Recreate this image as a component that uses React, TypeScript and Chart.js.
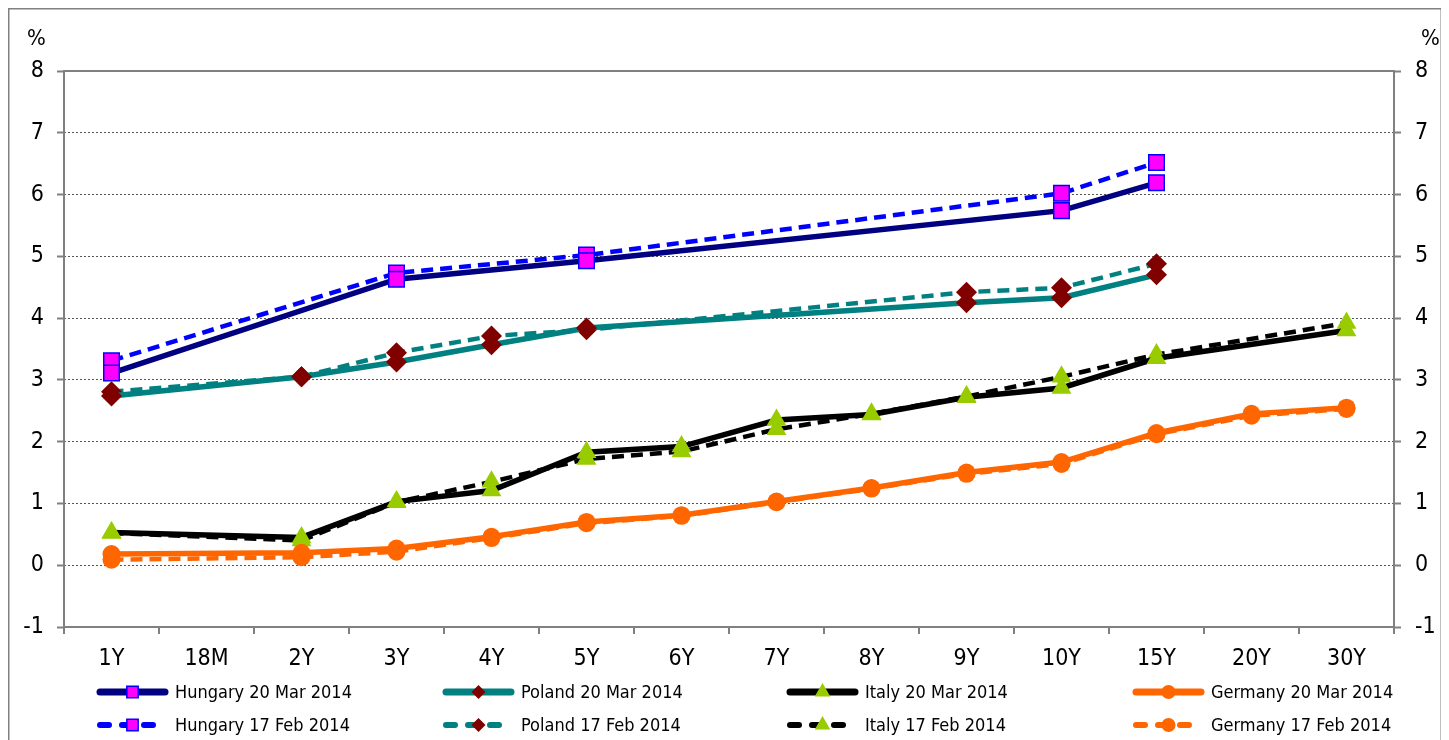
import React, { useEffect, useRef } from 'react';
import { Chart, registerables } from 'chart.js';

Chart.register(...registerables);

const categories = ['1Y', '18M', '2Y', '3Y', '4Y', '5Y', '6Y', '7Y', '8Y', '9Y', '10Y', '15Y', '20Y', '30Y'];

const hungaryMar = [3.11, null, null, 4.63, null, 4.93, null, null, null, null, 5.74, 6.19, null, null];
const polandMar = [2.74, null, 3.05, 3.29, 3.57, 3.84, null, null, null, 4.25, 4.33, 4.7, null, null];
const italyMar = [0.53, null, 0.45, 1.03, 1.21, 1.83, 1.92, 2.35, 2.44, 2.72, 2.87, 3.35, null, 3.8];
const germanyMar = [0.18, null, 0.2, 0.27, 0.46, 0.7, 0.81, 1.03, 1.25, 1.5, 1.67, 2.14, 2.45, 2.55];

const hungaryFeb = [3.31, null, null, 4.73, null, 5.02, null, null, null, null, 6.02, 6.52, null, null];
const polandFeb = [2.81, null, 3.05, 3.44, 3.71, 3.81, null, null, null, 4.42, 4.49, 4.88, null, null];
const italyFeb = [0.52, null, 0.4, 1.02, 1.35, 1.72, 1.84, 2.2, 2.45, 2.73, 3.05, 3.41, null, 3.92];
const germanyFeb = [0.09, null, 0.13, 0.22, 0.44, 0.68, 0.8, 1.02, 1.24, 1.48, 1.64, 2.12, 2.42, 2.53];

const seriesLabels = [
  'Hungary 20 Mar 2014', 'Poland 20 Mar 2014', 'Italy 20 Mar 2014', 'Germany 20 Mar 2014',
  'Hungary 17 Feb 2014', 'Poland 17 Feb 2014', 'Italy 17 Feb 2014', 'Germany 17 Feb 2014',
];

const yMin = -1;
const yMax = 8;

const FONT = '"DejaVu Sans Condensed", "DejaVu Sans", sans-serif';
const DASH = [12, 7];

function markerPath(ctx: CanvasRenderingContext2D, style: string, x: number, y: number, r: number) {
  ctx.beginPath();
  if (style === 'rect') {
    const s = r * Math.SQRT1_2;
    ctx.rect(x - s, y - s, 2 * s, 2 * s);
  } else if (style === 'rectRot') {
    ctx.moveTo(x - r, y);
    ctx.lineTo(x, y - r);
    ctx.lineTo(x + r, y);
    ctx.lineTo(x, y + r);
    ctx.closePath();
  } else if (style === 'triangle') {
    ctx.moveTo(x, y - r);
    ctx.lineTo(x + r * Math.sin(2 * Math.PI / 3), y + r / 2);
    ctx.lineTo(x - r * Math.sin(2 * Math.PI / 3), y + r / 2);
    ctx.closePath();
  } else {
    ctx.arc(x, y, r, 0, Math.PI * 2);
  }
}

const framePlugin = {
  id: 'frame',
  beforeDraw(chart: any) {
    const { ctx, width } = chart;
    ctx.save();
    ctx.fillStyle = '#ffffff';
    ctx.fillRect(0, 0, chart.width, chart.height);
    ctx.strokeStyle = '#808080';
    ctx.lineWidth = 1.5;
    ctx.beginPath();
    ctx.moveTo(0.75, chart.height + 5);
    ctx.lineTo(0.75, 0.75);
    ctx.lineTo(width - 0.75, 0.75);
    ctx.lineTo(width - 0.75, chart.height + 5);
    ctx.stroke();
    ctx.restore();
  },
  beforeDatasetsDraw(chart: any) {
    const { ctx, chartArea: a } = chart;
    ctx.save();
    ctx.strokeStyle = '#808080';
    ctx.lineWidth = 2;
    ctx.strokeRect(a.left, a.top, a.right - a.left, a.bottom - a.top);
    ctx.restore();
  },
  afterDraw(chart: any) {
    const { ctx } = chart;
    ctx.save();
    ctx.fillStyle = '#000';
    ctx.font = `22px ${FONT}`;
    ctx.textBaseline = 'middle';
    ctx.textAlign = 'left';
    ctx.fillText('%', 19, 31);
    ctx.fillText('%', 1413, 31);

    // legend
    const colX = [89, 435, 779, 1125];
    const rowY = [684, 717];
    const len = 71;
    chart.data.datasets.forEach((ds: any, i: number) => {
      const x0 = colX[i % 4];
      const y = rowY[Math.floor(i / 4)];
      const dashed = (ds.borderDash || []).length > 0;
      ctx.save();
      ctx.strokeStyle = ds.borderColor;
      ctx.lineWidth = dashed ? 6 : 7;
      ctx.lineCap = 'round';
      ctx.setLineDash(dashed ? [9, 13] : []);
      ctx.beginPath();
      ctx.moveTo(x0 + 3, y);
      ctx.lineTo(x0 + len - 3, y);
      ctx.stroke();
      ctx.setLineDash([]);
      const r = ds.pointStyle === 'rect' ? 8 : ds.pointStyle === 'triangle' ? 9 : 7;
      markerPath(ctx, ds.pointStyle, x0 + len / 2, y, r);
      ctx.fillStyle = ds.pointBackgroundColor;
      ctx.fill();
      if (ds.pointBorderWidth) {
        ctx.lineWidth = 1.5;
        ctx.strokeStyle = ds.pointBorderColor;
        ctx.stroke();
      }
      ctx.restore();
      ctx.fillStyle = '#000';
      ctx.font = `18px ${FONT}`;
      ctx.textAlign = 'left';
      ctx.textBaseline = 'middle';
      ctx.fillText(ds.label, x0 + 78, y + 1);
    });
    ctx.restore();
  },
};

function makeDataset(label: string, data: (number | null)[], line: string, style: string, fill: string, border: string, dashed: boolean) {
  const radius = style === 'rect' ? 11 : style === 'rectRot' ? 10.5 : style === 'triangle' ? 11.5 : 9;
  return {
    label,
    data,
    borderColor: line,
    backgroundColor: line,
    borderWidth: dashed ? 4.5 : 5.5,
    borderDash: dashed ? DASH : [],
    pointStyle: style,
    pointRadius: radius,
    pointHoverRadius: radius,
    pointBackgroundColor: fill,
    pointBorderColor: border,
    pointBorderWidth: style === 'rect' ? 1.5 : 0,
    spanGaps: true,
    tension: 0,
    yAxisID: 'y',
  };
}

export default function App() {
  const ref = useRef<HTMLCanvasElement>(null);
  useEffect(() => {
    if (!ref.current) return;
    const datasets = [
      makeDataset(seriesLabels[0], hungaryMar, '#000080', 'rect', '#FF00FF', '#0000FF', false),
      makeDataset(seriesLabels[1], polandMar, '#008080', 'rectRot', '#800000', '#800000', false),
      makeDataset(seriesLabels[2], italyMar, '#000000', 'triangle', '#99CC00', '#99CC00', false),
      makeDataset(seriesLabels[3], germanyMar, '#FF6600', 'circle', '#FF6600', '#FF6600', false),
      makeDataset(seriesLabels[4], hungaryFeb, '#0000FF', 'rect', '#FF00FF', '#0000FF', true),
      makeDataset(seriesLabels[5], polandFeb, '#008080', 'rectRot', '#800000', '#800000', true),
      makeDataset(seriesLabels[6], italyFeb, '#000000', 'triangle', '#99CC00', '#99CC00', true),
      makeDataset(seriesLabels[7], germanyFeb, '#FF6600', 'circle', '#FF6600', '#FF6600', true),
    ];
    const tickFont = { family: FONT, size: 23 };
    const chart = new Chart(ref.current, {
      type: 'line',
      data: { labels: categories, datasets: datasets as any },
      plugins: [framePlugin],
      options: {
        animation: false,
        responsive: false,
        maintainAspectRatio: false,
        events: [],
        layout: { padding: { top: 63, left: 0, right: 0, bottom: 0 } },
        plugins: { legend: { display: false }, tooltip: { enabled: false } },
        scales: {
          x: {
            type: 'category',
            offset: true,
            grid: { offset: true, drawOnChartArea: false, tickLength: 7, color: '#808080', lineWidth: 2 },
            border: { display: false },
            ticks: { font: tickFont, color: '#000', padding: 11, maxRotation: 0, autoSkip: false },
            afterFit: (s: any) => { s.height = 113; },
          },
          y: {
            position: 'left',
            min: yMin,
            max: yMax,
            ticks: { stepSize: 1, font: tickFont, color: '#000', padding: 13 },
            grid: { color: '#555', lineWidth: 1, tickLength: 7, tickColor: '#808080', tickWidth: 2 },
            border: { display: false, dash: [2, 2] },
            afterFit: (s: any) => { s.width = 56; },
          },
          y2: {
            position: 'right',
            min: yMin,
            max: yMax,
            ticks: { stepSize: 1, font: tickFont, color: '#000', padding: 14 },
            grid: { drawOnChartArea: false, tickLength: 7, tickColor: '#808080', tickWidth: 2 },
            border: { display: false },
            afterFit: (s: any) => { s.width = 48; },
          },
        },
      } as any,
    });
    return () => chart.destroy();
  }, []);
  return (
    <div style={{ width: 1434, height: 732 }}>
      <canvas ref={ref} width={1434} height={732} style={{ display: 'block', width: 1434, height: 732 }} />
    </div>
  );
}
